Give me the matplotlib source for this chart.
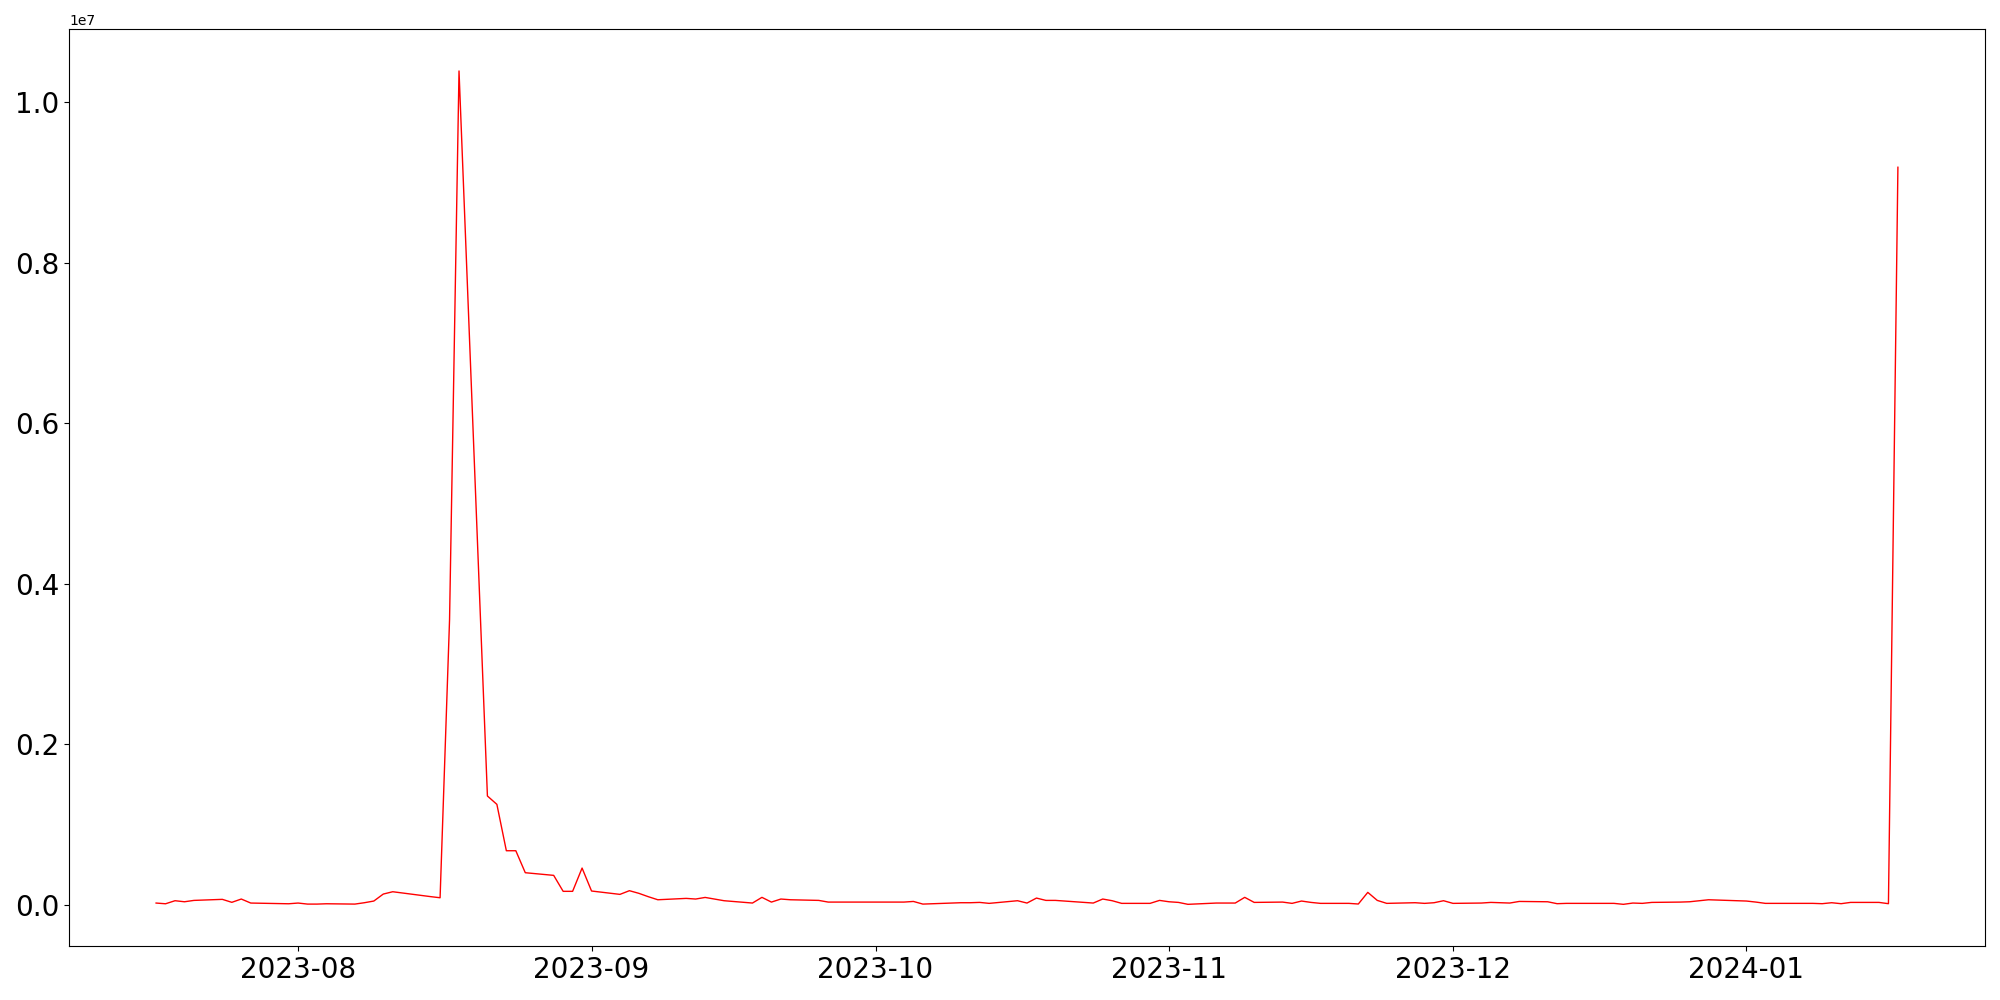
import matplotlib
matplotlib.use('Agg')
import matplotlib.pyplot as plt
import pandas as pd

# business days, 2023-07-17 .. 2024-01-17
start_date = '2023-07-17'
end_date = '2024-01-17'

jul = [20000, 11000, 49000, 36000, 53000, 66000, 29000, 70000, 20000, 18000, 11000]
aug = [20000, 7000, 7000, 11000, 7000, 24000, 45000, 132000, 161000, 115000,
       100000, 86000, 3550000, 10390000, 1354000, 1250000, 672000, 672000,
       398000, 365000, 166000, 166000, 456000]
sep = [170000, 128000, 174000, 141000, 99000, 61000, 78000, 70000, 90000, 70000,
       49000, 20000, 91000, 32000, 70000, 61000, 53000, 32000, 32000, 32000, 32000]
oct_ = [32000, 32000, 32000, 40000, 7000, 20000, 24000, 24000, 28000, 16000,
        49000, 20000, 82000, 53000, 53000, 28000, 20000, 70000, 49000, 16000,
        16000, 53000]
nov = [36000, 28000, 4000, 20000, 20000, 20000, 91000, 28000, 32000, 16000,
       45000, 28000, 16000, 16000, 8000, 153000, 53000, 16000, 24000, 16000,
       24000, 49000]
dec = [16000, 20000, 28000, 24000, 20000, 40000, 36000, 12000, 16000, 16000,
       16000, 16000, 4000, 20000, 16000, 28000, 32000, 36000, 49000, 61000, 57000]
jan = [45000, 32000, 16000, 16000, 16000, 16000, 12000, 24000, 12000, 28000,
       28000, 12000, 9190000]

dates = pd.bdate_range(start_date, end_date)
values = jul + aug + sep + oct_ + nov + dec + jan

fig = plt.figure(figsize=(20, 10), dpi=100)
ax = fig.add_subplot(1, 1, 1)
fig.subplots_adjust(left=0.0345, right=0.9925, top=0.9707, bottom=0.054)

ax.plot(dates, values, color='red', linewidth=1)

ax.tick_params(axis='both', labelsize=20)
ax.yaxis.get_offset_text().set_fontsize(10)

fig.savefig('out.png', dpi=100)
